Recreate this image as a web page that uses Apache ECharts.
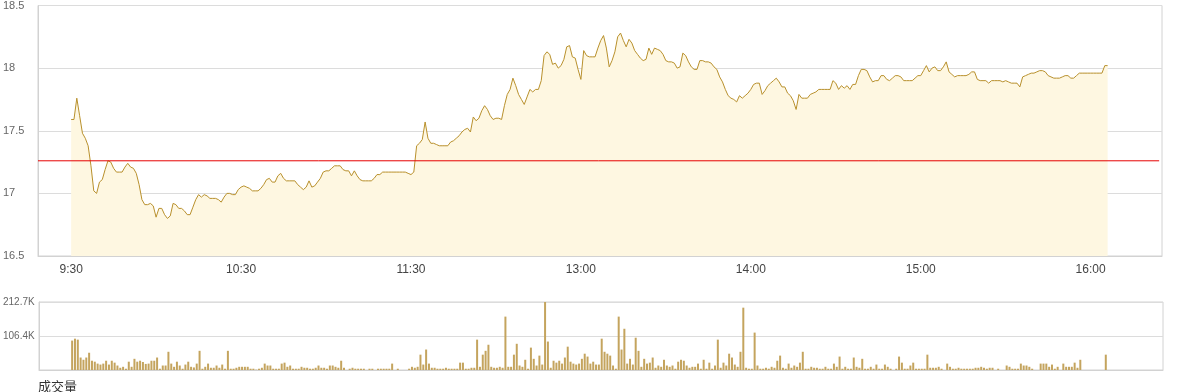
<!DOCTYPE html>
<html>
<head>
<meta charset="utf-8">
<script src="https://cdn.jsdelivr.net/npm/echarts@6/dist/echarts.min.js"></script>
<style>
  html, body { margin: 0; padding: 0; background: #fff; }
  #main { width: 1180px; height: 392px; }
</style>
</head>
<body>
<div id="main"></div>
<script>
// minute index of each axis label and its text
var tickMinutes = [0, 60, 120, 180, 240, 300, 360];
var tickLabels = ['9:30', '10:30', '11:30', '13:00', '14:00', '15:00', '16:00'];

var prevClose = 17.26;

// one price per minute, from 9:30
var prices = [
    17.59,17.59,17.76,17.62,17.48,17.44,17.38,17.22,17.02,17.00,
    17.09,17.11,17.19,17.26,17.25,17.20,17.17,17.17,17.17,17.21,
    17.24,17.21,17.20,17.16,17.07,16.95,16.91,16.91,16.92,16.90,
    16.81,16.88,16.88,16.83,16.80,16.82,16.92,16.91,16.88,16.88,
    16.86,16.83,16.83,16.89,16.95,16.99,16.97,16.99,16.98,16.96,
    16.96,16.96,16.95,16.93,16.97,17.00,17.00,16.99,16.99,17.03,
    17.05,17.06,17.05,17.04,17.02,17.02,17.02,17.04,17.07,17.11,
    17.12,17.09,17.09,17.14,17.16,17.12,17.10,17.10,17.10,17.10,
    17.07,17.05,17.03,17.05,17.10,17.05,17.06,17.09,17.12,17.17,
    17.18,17.18,17.20,17.22,17.22,17.22,17.19,17.18,17.18,17.14,
    17.18,17.14,17.11,17.10,17.10,17.10,17.10,17.12,17.15,17.15,
    17.17,17.17,17.17,17.17,17.17,17.17,17.17,17.17,17.17,17.16,
    17.15,17.17,17.38,17.40,17.43,17.57,17.44,17.40,17.40,17.39,
    17.38,17.38,17.38,17.38,17.41,17.42,17.44,17.46,17.49,17.51,
    17.52,17.49,17.61,17.58,17.60,17.66,17.70,17.67,17.62,17.59,
    17.60,17.60,17.59,17.70,17.79,17.83,17.92,17.86,17.79,17.75,
    17.71,17.77,17.83,17.81,17.83,17.83,17.90,18.10,18.13,18.11,
    18.03,18.04,18.00,18.02,18.07,18.17,18.18,18.09,18.08,17.99,
    17.91,18.14,18.10,18.09,18.09,18.09,18.16,18.22,18.26,18.16,
    18.01,18.06,18.13,18.25,18.28,18.22,18.17,18.23,18.20,18.14,
    18.11,18.08,18.06,18.07,18.16,18.11,18.16,18.15,18.14,18.11,
    18.06,18.05,18.05,18.04,18.00,18.01,18.12,18.10,18.05,18.01,
    17.99,17.99,18.06,18.06,18.05,18.05,18.04,18.01,17.99,17.93,
    17.89,17.83,17.78,17.76,17.75,17.73,17.78,17.76,17.78,17.80,
    17.83,17.87,17.88,17.88,17.79,17.82,17.86,17.88,17.90,17.92,
    17.89,17.85,17.85,17.80,17.78,17.74,17.67,17.79,17.76,17.76,
    17.76,17.79,17.80,17.81,17.83,17.83,17.83,17.83,17.83,17.90,
    17.88,17.83,17.86,17.84,17.86,17.83,17.87,17.87,17.94,17.99,
    17.99,17.98,17.93,17.89,17.90,17.90,17.94,17.94,17.91,17.90,
    17.92,17.94,17.94,17.93,17.90,17.90,17.90,17.90,17.92,17.94,
    17.94,17.98,18.02,17.97,18.00,18.01,17.98,17.98,18.01,18.05,
    17.97,17.95,17.93,17.94,17.94,17.94,17.94,17.95,17.97,17.97,
    17.91,17.90,17.90,17.90,17.88,17.90,17.90,17.90,17.90,17.89,
    17.90,17.89,17.88,17.88,17.88,17.85,17.93,17.94,17.95,17.96,
    17.96,17.97,17.98,17.98,17.97,17.94,17.93,17.92,17.92,17.92,
    17.93,17.94,17.94,17.92,17.92,17.94,17.96,17.96,17.96,17.96,
    17.96,17.96,17.96,17.96,17.96,18.02,18.02
];

// volume per minute, in thousands
var volumes = [
    92,98,95,39,32,39,54,29,26,20,
    17,20,29,17,29,23,14,7,10,4,
    26,10,35,26,29,25,19,20,29,29,
    39,4,14,14,57,20,10,26,14,4,
    17,26,10,8,20,60,4,10,20,7,
    7,14,7,17,4,60,4,4,7,10,
    10,10,10,4,4,1,4,7,20,14,
    14,4,4,4,20,23,10,14,4,4,
    4,10,7,7,4,4,7,14,7,7,
    4,14,14,10,7,29,7,0,4,7,
    4,4,4,4,0,4,4,0,4,4,
    4,4,4,20,0,4,0,0,0,4,
    10,7,10,48,17,64,20,7,7,4,
    4,4,7,4,4,4,4,23,23,4,
    4,7,7,95,10,48,60,79,10,7,
    7,10,7,167,10,10,48,82,14,10,
    32,4,70,35,14,45,17,212.7,89,7,
    29,23,29,20,39,73,26,20,17,20,
    35,51,42,20,26,17,17,98,57,51,
    45,14,4,167,64,129,20,35,17,101,
    60,10,35,20,23,39,7,14,10,32,
    14,10,14,4,26,32,29,14,7,10,
    10,20,4,32,4,23,4,14,95,7,
    23,14,51,39,17,10,57,195,7,4,
    4,117,14,4,4,7,4,10,7,29,
    45,7,4,20,7,14,10,23,57,4,
    4,10,7,7,4,4,10,4,4,20,
    10,42,4,10,4,4,39,10,7,35,
    4,4,10,4,17,4,4,17,10,4,
    0,4,42,23,4,4,14,23,4,4,
    4,4,48,7,7,7,10,4,0,20,
    10,4,4,7,4,4,4,4,4,7,
    7,10,7,4,7,7,0,4,0,0,
    14,10,4,4,4,20,14,14,10,4,
    0,0,20,20,20,10,17,4,10,0,
    20,10,10,10,23,7,32,0,0,0,
    0,0,0,0,0,48,0
];

// top of the volume axis (labels 212.7K / 106.4K)
var volMax = 212.72;

var xMin = -11.7, xMax = 385.2;

var priceData = prices.map(function (p, i) { return [i, p]; });
var volData = volumes.map(function (v, i) { return [i, v]; });
var closeData = [[xMin, prevClose], [xMax - 1, prevClose]];

var chart = echarts.init(document.getElementById('main'));

var font = 'Arial, "Liberation Sans", sans-serif';

var option = {
    animation: false,
    textStyle: { fontFamily: font },
    title: {
        text: '成交量',
        left: 33,
        top: 375,
        textStyle: { fontSize: 13, fontWeight: 'normal', color: '#333', fontFamily: '"Noto Sans CJK SC", sans-serif' }
    },
    grid: [
        { left: 38, right: 18, top: 4, height: 252, show: true, borderColor: '#d2d2d2', borderWidth: 1 },
        { left: 38, right: 17, top: 302, height: 68, show: true, borderColor: '#d2d2d2', borderWidth: 1 }
    ],
    xAxis: [
        {
            type: 'value', gridIndex: 0, min: xMin, max: xMax,
            axisLine: { show: true, onZero: false, lineStyle: { color: '#d2d2d2' } },
            axisTick: { show: false },
            splitLine: { show: false },
            axisLabel: {
                customValues: tickMinutes,
                formatter: function (v) { return tickLabels[tickMinutes.indexOf(v)] || ''; },
                color: '#444', fontSize: 12, margin: 8
            }
        },
        {
            type: 'value', gridIndex: 1, min: xMin, max: xMax,
            axisLine: { show: true, onZero: false, lineStyle: { color: '#d2d2d2' } },
            axisTick: { show: false },
            splitLine: { show: false },
            axisLabel: { show: false }
        }
    ],
    yAxis: [
        {
            type: 'value', gridIndex: 0, min: 16.5, max: 18.5, interval: 0.5,
            axisLine: { show: true, onZero: false, lineStyle: { color: '#d2d2d2' } },
            axisTick: { show: false },
            splitLine: { lineStyle: { color: '#dcdcdc' } },
            axisLabel: { align: 'left', margin: 35, color: '#666', fontSize: 11 }
        },
        {
            type: 'value', gridIndex: 1, min: 0, max: volMax, interval: volMax / 2,
            axisLine: { show: true, onZero: false, lineStyle: { color: '#d2d2d2' } },
            axisTick: { show: false },
            splitLine: { lineStyle: { color: '#dcdcdc' } },
            axisLabel: {
                align: 'left', margin: 36, color: '#666', fontSize: 10, padding: [4, 0, 0, 0],
                formatter: function (v) { return v === 0 ? '' : v.toFixed(1) + 'K'; }
            }
        }
    ],
    series: [
        {
            type: 'line',
            xAxisIndex: 0, yAxisIndex: 0,
            data: priceData,
            showSymbol: false,
            lineStyle: { color: '#b8902c', width: 1 },
            itemStyle: { color: '#b8902c' },
            areaStyle: { color: '#fef7e1', opacity: 1 },
            z: 2
        },
        {
            // previous close
            type: 'line',
            xAxisIndex: 0, yAxisIndex: 0,
            data: closeData,
            showSymbol: false,
            silent: true,
            lineStyle: { color: '#e60000', width: 1 },
            itemStyle: { color: '#e60000' },
            z: 3
        },
        {
            type: 'bar',
            xAxisIndex: 1, yAxisIndex: 1,
            data: volData,
            barWidth: 2,
            itemStyle: { color: '#c4a45e' }
        }
    ]
};

chart.setOption(option);
</script>
</body>
</html>
